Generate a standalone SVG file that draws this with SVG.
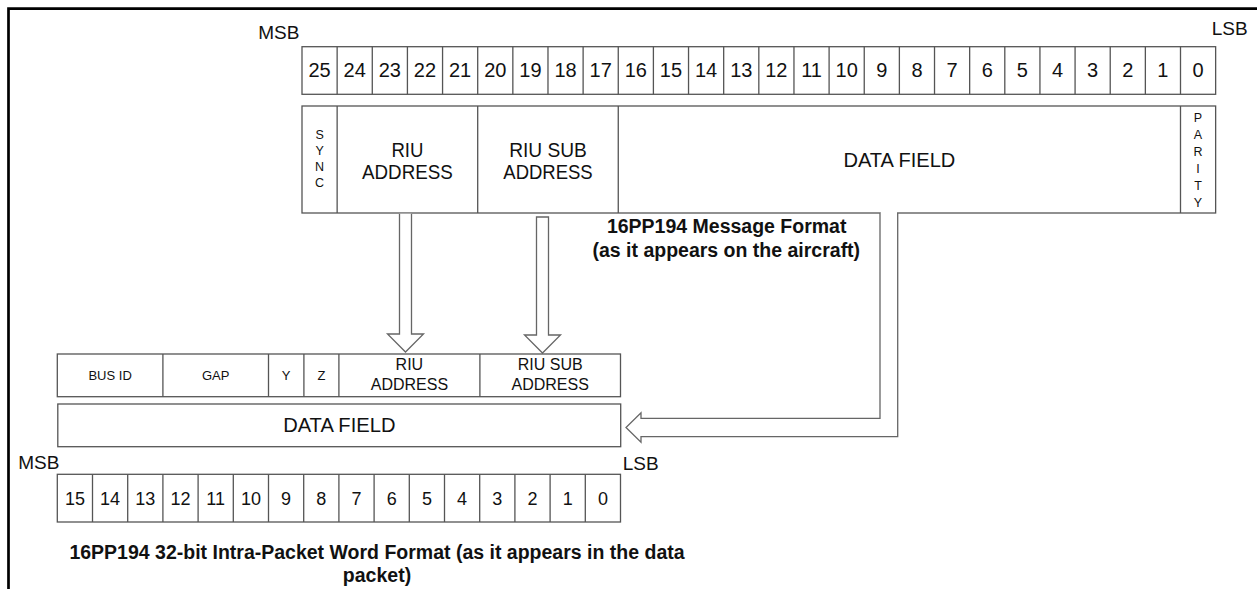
<svg xmlns="http://www.w3.org/2000/svg" width="1257" height="589" viewBox="0 0 1257 589">
<style>
  text { font-family: "Liberation Sans", Arial, sans-serif; fill: #111; }
  .box { fill: #fff; stroke: #555; stroke-width: 1.3; }
  .ln { stroke: #555; stroke-width: 1.3; fill: none; }
  .bit20 { font-size: 20px; text-anchor: middle; }
  .bit18 { font-size: 18px; text-anchor: middle; }
  .lbl { font-size: 19px; }
  .big { font-size: 21px; text-anchor: middle; }
  .mid { font-size: 16px; text-anchor: middle; }
  .sm { font-size: 13px; text-anchor: middle; }
  .vert { font-size: 12.5px; text-anchor: middle; }
  .cap { font-size: 19.5px; font-weight: bold; text-anchor: middle; }
  .arrow { fill: #fff; stroke: #666; stroke-width: 1.3; }
  .frame { stroke: #000; stroke-width: 2.7; fill: none; }
</style>

<g id="frame">
  <path class="frame" d="M7.2,8.7 H1257 M8.5,7.4 V589"/>
</g>

<g id="top-bits">
  <text class="lbl" x="258.3" y="39.3">MSB</text>
  <text class="lbl" x="1211.7" y="35">LSB</text>
  <rect class="box" x="302" y="46.7" width="913.64" height="47.6"/>
  <path class="ln" d="M337.14,46.7V94.3 M372.28,46.7V94.3 M407.42,46.7V94.3 M442.56,46.7V94.3 M477.7,46.7V94.3 M512.84,46.7V94.3 M547.98,46.7V94.3 M583.12,46.7V94.3 M618.26,46.7V94.3 M653.4,46.7V94.3 M688.54,46.7V94.3 M723.68,46.7V94.3 M758.82,46.7V94.3 M793.96,46.7V94.3 M829.1,46.7V94.3 M864.24,46.7V94.3 M899.38,46.7V94.3 M934.52,46.7V94.3 M969.66,46.7V94.3 M1004.8,46.7V94.3 M1039.94,46.7V94.3 M1075.08,46.7V94.3 M1110.22,46.7V94.3 M1145.36,46.7V94.3 M1180.5,46.7V94.3"/>
  <g class="bit20">
    <text x="319.57" y="77.3">25</text>
    <text x="354.71" y="77.3">24</text>
    <text x="389.85" y="77.3">23</text>
    <text x="424.99" y="77.3">22</text>
    <text x="460.13" y="77.3">21</text>
    <text x="495.27" y="77.3">20</text>
    <text x="530.41" y="77.3">19</text>
    <text x="565.55" y="77.3">18</text>
    <text x="600.69" y="77.3">17</text>
    <text x="635.83" y="77.3">16</text>
    <text x="670.97" y="77.3">15</text>
    <text x="706.11" y="77.3">14</text>
    <text x="741.25" y="77.3">13</text>
    <text x="776.39" y="77.3">12</text>
    <text x="811.53" y="77.3">11</text>
    <text x="846.67" y="77.3">10</text>
    <text x="881.81" y="77.3">9</text>
    <text x="916.95" y="77.3">8</text>
    <text x="952.09" y="77.3">7</text>
    <text x="987.23" y="77.3">6</text>
    <text x="1022.37" y="77.3">5</text>
    <text x="1057.51" y="77.3">4</text>
    <text x="1092.65" y="77.3">3</text>
    <text x="1127.79" y="77.3">2</text>
    <text x="1162.93" y="77.3">1</text>
    <text x="1198.07" y="77.3">0</text>
  </g>
</g>

<g id="top-fields">
  <rect class="box" x="302" y="106" width="913.64" height="107"/>
  <path class="ln" d="M337.14,106V213 M477.7,106V213 M618.26,106V213 M1180.5,106V213"/>
  <g id="sync" class="vert">
    <text x="319.6" y="138.5">S</text>
    <text x="319.6" y="154.5">Y</text>
    <text x="319.6" y="170.5">N</text>
    <text x="319.6" y="186.5">C</text>
  </g>
  <g id="riu-address-top" class="big">
    <text x="407.4" y="157" textLength="32" lengthAdjust="spacingAndGlyphs">RIU</text>
    <text x="407.4" y="179" textLength="90.7" lengthAdjust="spacingAndGlyphs">ADDRESS</text>
  </g>
  <g id="riu-sub-address-top" class="big">
    <text x="548" y="157" textLength="77.7" lengthAdjust="spacingAndGlyphs">RIU SUB</text>
    <text x="548" y="179" textLength="89.4" lengthAdjust="spacingAndGlyphs">ADDRESS</text>
  </g>
  <g id="data-field-top" class="big">
    <text x="899.4" y="167" textLength="112" lengthAdjust="spacingAndGlyphs">DATA FIELD</text>
  </g>
  <g id="parity" class="vert">
    <text x="1198" y="121.5">P</text>
    <text x="1198" y="138.5">A</text>
    <text x="1198" y="155.5">R</text>
    <text x="1198" y="172.5">I</text>
    <text x="1198" y="189.5">T</text>
    <text x="1198" y="206.5">Y</text>
  </g>
</g>

<g id="caption-top" class="cap">
  <text x="726.7" y="233.3">16PP194 Message Format</text>
  <text x="726.3" y="256.7">(as it appears on the aircraft)</text>
</g>

<g id="connectors">
  <path class="arrow" d="M399.5,213.7 V334 H387.5 L405.5,352 L423.5,334 H411.5 V213.7"/>
  <path class="arrow" d="M536.5,217 H548.5 V335 H560.5 L542.5,353 L524.5,335 H536.5 Z"/>
  <rect x="880.8" y="211.5" width="16.2" height="3" fill="#fff"/>
  <path class="arrow" d="M880,213 V418.3 H641 V412.8 L626,427.5 L641,442.2 V436.7 H897.7 V213"/>
</g>

<g id="bottom-fields">
  <rect class="box" x="57.3" y="354" width="563.2" height="42.7"/>
  <path class="ln" d="M162.9,354V396.7 M268.5,354V396.7 M303.9,354V396.7 M338.9,354V396.7 M479.9,354V396.7"/>
  <g class="sm">
    <text x="110.1" y="380">BUS ID</text>
    <text x="215.7" y="380">GAP</text>
    <text x="286.2" y="380">Y</text>
    <text x="321.4" y="380">Z</text>
  </g>
  <g id="riu-address-bottom" class="mid">
    <text x="409.4" y="370">RIU</text>
    <text x="409.4" y="390">ADDRESS</text>
  </g>
  <g id="riu-sub-address-bottom" class="mid">
    <text x="550.2" y="370">RIU SUB</text>
    <text x="550.2" y="390">ADDRESS</text>
  </g>
</g>

<g id="data-field-bottom">
  <rect class="box" x="57.8" y="404" width="562.9" height="42.7"/>
  <text class="big" x="339.3" y="432" textLength="112.3" lengthAdjust="spacingAndGlyphs">DATA FIELD</text>
</g>

<g id="bottom-bits">
  <text class="lbl" x="18.3" y="469">MSB</text>
  <text class="lbl" x="622.7" y="470">LSB</text>
  <rect class="box" x="57.3" y="474.3" width="563.2" height="47.7"/>
  <path class="ln" d="M92.5,474.3V522 M127.7,474.3V522 M162.9,474.3V522 M198.1,474.3V522 M233.3,474.3V522 M268.5,474.3V522 M303.7,474.3V522 M338.9,474.3V522 M374.1,474.3V522 M409.3,474.3V522 M444.5,474.3V522 M479.7,474.3V522 M514.9,474.3V522 M550.1,474.3V522 M585.3,474.3V522"/>
  <g class="bit18">
    <text x="74.9" y="504.5">15</text>
    <text x="110.1" y="504.5">14</text>
    <text x="145.3" y="504.5">13</text>
    <text x="180.5" y="504.5">12</text>
    <text x="215.7" y="504.5">11</text>
    <text x="250.9" y="504.5">10</text>
    <text x="286.1" y="504.5">9</text>
    <text x="321.3" y="504.5">8</text>
    <text x="356.5" y="504.5">7</text>
    <text x="391.7" y="504.5">6</text>
    <text x="426.9" y="504.5">5</text>
    <text x="462.1" y="504.5">4</text>
    <text x="497.3" y="504.5">3</text>
    <text x="532.5" y="504.5">2</text>
    <text x="567.7" y="504.5">1</text>
    <text x="602.9" y="504.5">0</text>
  </g>
</g>

<g id="caption-bottom" class="cap">
  <text x="377" y="558.5">16PP194 32-bit Intra-Packet Word Format (as it appears in the data</text>
  <text x="377" y="582">packet)</text>
</g>
</svg>
